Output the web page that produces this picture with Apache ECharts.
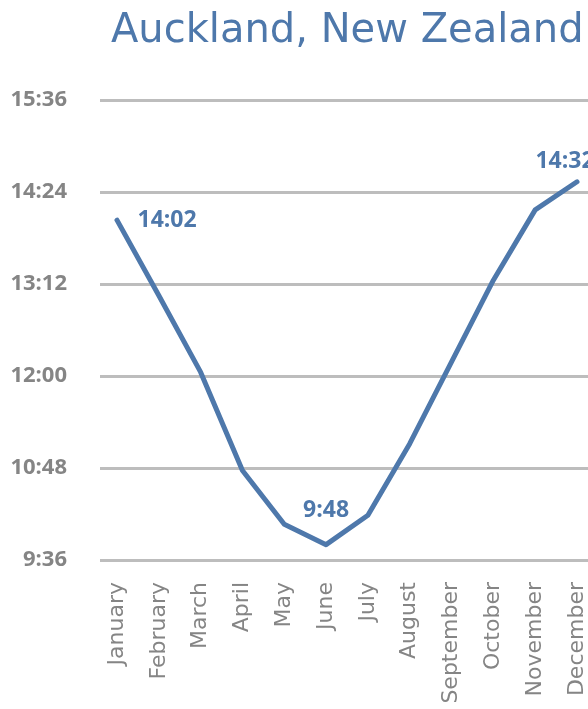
<!DOCTYPE html>
<html>
<head>
<meta charset="utf-8">
<title>Auckland, New Zealand</title>
<script src="https://cdn.jsdelivr.net/npm/echarts@6/dist/echarts.min.js"></script>
<style>
  html, body { margin: 0; padding: 0; background: #ffffff; }
  #chart { width: 588px; height: 709px; }
</style>
</head>
<body>
<div id="chart"></div>
<script>
// Hours of daylight per month, stored as minutes
const months = ['January', 'February', 'March', 'April', 'May', 'June',
  'July', 'August', 'September', 'October', 'November', 'December'];
const daylightMinutes = [842, 783, 723, 646, 604, 588, 611, 667, 731, 795, 850, 872];
// Value-axis range and step, in minutes (9:36 to 15:36, every 1:12)
const axisMin = 576;
const axisMax = 936;
const axisStep = 72;
// Months whose value is printed next to the line
const labelledMonths = ['January', 'June', 'December'];

const BLUE = '#4e78ab';
const GREY = '#858585';
const NUM_FONT = '"Open Sans", "Noto Sans", sans-serif';
const TEXT_FONT = '"DejaVu Sans", sans-serif';

function toClock(mins) {
  const h = Math.floor(mins / 60);
  const m = Math.round(mins - h * 60);
  return h + ':' + String(m).padStart(2, '0');
}

// Per-label placement around the line
const labelPlacement = {
  January: { position: 'right', distance: 20 },
  June: { position: 'top', distance: 22 },
  December: { position: 'top', distance: 8, offset: [-12, 0] }
};

const seriesData = daylightMinutes.map((v, i) => {
  const name = months[i];
  if (labelledMonths.indexOf(name) === -1) return v;
  return {
    value: v,
    label: Object.assign({
      show: true,
      formatter: p => toClock(p.value),
      color: BLUE,
      fontFamily: NUM_FONT,
      fontWeight: 'bold',
      fontSize: 23
    }, labelPlacement[name])
  };
});

const chart = echarts.init(document.getElementById('chart'), null, { renderer: 'canvas' });

chart.setOption({
  backgroundColor: '#ffffff',
  animation: false,
  title: {
    text: 'Auckland, New Zealand',
    left: 106,
    top: 7,
    textStyle: {
      color: BLUE,
      fontFamily: TEXT_FONT,
      fontWeight: 'normal',
      fontSize: 40
    }
  },
  grid: [
    // plotting area for the line
    { left: 117, right: 9, top: 100, bottom: 149 },
    // wider area carrying the horizontal rules and the time labels
    { left: 100, right: -40, top: 100, bottom: 149 }
  ],
  xAxis: [
    {
      gridIndex: 0,
      type: 'category',
      data: months,
      boundaryGap: false,
      axisLine: { show: false },
      axisTick: { show: false },
      axisLabel: {
        rotate: 90,
        margin: 22,
        interval: 0,
        color: GREY,
        fontFamily: TEXT_FONT,
        fontSize: 22
      }
    },
    { gridIndex: 1, type: 'value', min: 0, max: 1, show: false }
  ],
  yAxis: [
    {
      gridIndex: 0,
      type: 'value',
      min: axisMin,
      max: axisMax,
      interval: axisStep,
      show: false,
      splitLine: { show: false }
    },
    {
      gridIndex: 1,
      type: 'value',
      min: axisMin,
      max: axisMax,
      interval: axisStep,
      axisLine: { show: false },
      axisTick: { show: false },
      axisLabel: {
        margin: 33,
        color: GREY,
        fontFamily: NUM_FONT,
        fontWeight: 'bold',
        fontSize: 22,
        formatter: v => toClock(v)
      },
      splitLine: { lineStyle: { color: '#bdbdbd', width: 3 } }
    }
  ],
  series: [{
    type: 'line',
    xAxisIndex: 0,
    yAxisIndex: 0,
    data: seriesData,
    showSymbol: true,
    symbol: 'circle',
    symbolSize: 1,
    itemStyle: { color: 'rgba(0,0,0,0)', borderWidth: 0 },
    lineStyle: { color: BLUE, width: 5, cap: 'round', join: 'round' },
    z: 5
  }]
});
</script>
</body>
</html>
